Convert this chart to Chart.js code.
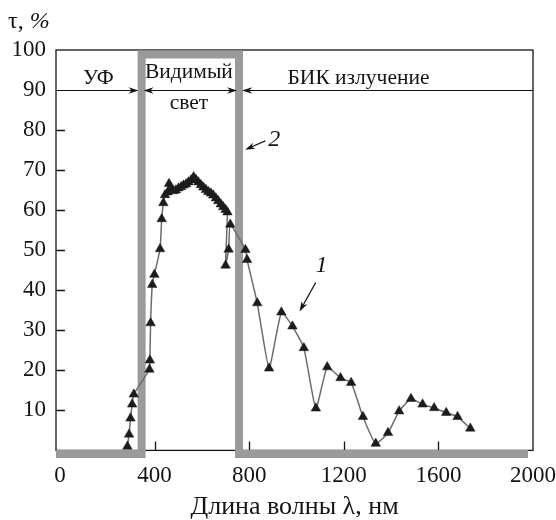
<!DOCTYPE html>
<html><head><meta charset="utf-8">
<script src="https://cdn.jsdelivr.net/npm/chart.js@4/dist/chart.umd.min.js"></script>
<style>html,body{margin:0;padding:0;background:#fff}#wrap{width:556px;height:520px}</style>
</head><body><div id="wrap"><canvas id="c" width="556" height="520"></canvas></div>
<script>
// Curve 1: measured transmission, tau (%) vs wavelength (nm)
const wavelength1 = [285,292,298,305,312,378,380,383,390,399,423,430,437,444,455,461,470,480,490,501,512,522,533,543,554,565,575,585,596,606,617,627,638,648,659,669,680,690,700,708,700,713,720,784,791,834,884,936,983,1031,1082,1130,1186,1231,1281,1335,1387,1434,1484,1533,1582,1633,1681,1735];
const transmission1 = [1,4,8,11.5,14,20.2,22.5,31.8,41.4,43.9,50.3,57.8,61.8,63.8,64.5,66.6,65.5,64.8,65,65.5,65.8,66.2,66.5,67,67.5,68.3,67.6,67,66.3,65.7,65.1,64.6,64.2,63.7,63,62.3,61.5,60.8,60.1,59.5,46.2,50.2,56.4,50.1,47.6,36.8,20.5,34.5,31,25.6,10.5,20.8,18.1,16.9,8.4,1.7,4.4,9.8,12.9,11.5,10.6,9.4,8.4,5.5];
// Curve 2: rectangular window (visible band)
const wavelength2 = [-17,345,345,757,757,1979];
const transmission2 = [-0.9,-0.9,98.9,98.9,-0.9,-0.9];
// Axis ticks
const xTicks = [0,400,800,1200,1600,2000];
const yTicks = [10,20,30,40,50,60,70,80,90,100];
// Region labels
const regionNames = ['УФ','Видимый','свет','БИК излучение'];
const curveNames = ['1','2'];

const SERIF = '"Liberation Serif","DejaVu Serif",serif';
const INK = '#141414';

const ann = {
  regionLineValue: 90,
  arrowTips: [[332,0],[353,Math.PI],[749,0],[770,Math.PI]],
  uv: [162, 93], vis1: [545, 94.3], vis2: [545, 86.6], nir: [962, 93],
  label1: [1106, 46.2], arrow1: [[1081,41.9],[1013,34.7]],
  label2: [906, 77.6], arrow2: [[868,77.3],[783,75.1]]
};

function arrowHead(ctx,x,y,ang,len,w){
  ctx.save(); ctx.translate(x,y); ctx.rotate(ang);
  ctx.beginPath(); ctx.moveTo(0,0); ctx.lineTo(-len,-w); ctx.lineTo(-len*0.7,0); ctx.lineTo(-len,w); ctx.closePath(); ctx.fill();
  ctx.restore();
}

const framePlugin = {
  id:'frame',
  beforeDatasetsDraw(chart){
    const {ctx, chartArea:a, scales:{x,y}} = chart;
    ctx.save();
    ctx.strokeStyle = INK; ctx.lineWidth = 1.3;
    ctx.strokeRect(a.left, a.top, a.right-a.left, a.bottom-a.top);
    ctx.beginPath();
    xTicks.forEach(v=>{ if(v<=0||v>=2000) return; const px=Math.round(x.getPixelForValue(v))+0.5; ctx.moveTo(px,a.bottom); ctx.lineTo(px,a.bottom-9); });
    yTicks.forEach(v=>{ if(v>=90) return; const py=Math.round(y.getPixelForValue(v))+0.5; ctx.moveTo(a.left,py); ctx.lineTo(a.left+9,py); });
    ctx.stroke();
    ctx.restore();
  }
};

const annPlugin = {
  id:'ann',
  afterDatasetsDraw(chart){
    const {ctx, chartArea:a, scales:{x,y}} = chart;
    const X=v=>x.getPixelForValue(v), Y=v=>y.getPixelForValue(v);
    ctx.save();
    ctx.strokeStyle = INK; ctx.fillStyle = INK; ctx.lineWidth = 1.2;
    const yy = Math.round(Y(ann.regionLineValue))+0.5;
    const t = ann.arrowTips.map(p=>X(p[0]));
    ctx.beginPath();
    [[a.left,t[0]-4],[t[1]+4,t[2]-4],[t[3]+4,a.right]].forEach(([s,e])=>{ctx.moveTo(s,yy);ctx.lineTo(e,yy);});
    ctx.stroke();
    ann.arrowTips.forEach(p=>arrowHead(ctx,X(p[0]),yy,p[1],10,3.3));

    ctx.font = '21.5px '+SERIF; ctx.textBaseline='middle'; ctx.textAlign='center';
    ctx.fillText(regionNames[0], X(ann.uv[0]), Y(ann.uv[1]));
    ctx.fillText(regionNames[1], X(ann.vis1[0]), Y(ann.vis1[1]));
    ctx.fillText(regionNames[2], X(ann.vis2[0]), Y(ann.vis2[1]));
    ctx.textAlign='left';
    ctx.fillText(regionNames[3], X(ann.nir[0]), Y(ann.nir[1]));

    ctx.font = 'italic 24px '+SERIF; ctx.textAlign='center';
    ctx.fillText(curveNames[0], X(ann.label1[0]), Y(ann.label1[1]));
    ctx.fillText(curveNames[1], X(ann.label2[0]), Y(ann.label2[1]));
    [ann.arrow1, ann.arrow2].forEach(([p0,p1])=>{
      const x0=X(p0[0]), y0=Y(p0[1]), x1=X(p1[0]), y1=Y(p1[1]);
      const ang=Math.atan2(y1-y0,x1-x0);
      ctx.beginPath(); ctx.moveTo(x0,y0); ctx.lineTo(x1-6*Math.cos(ang), y1-6*Math.sin(ang)); ctx.stroke();
      arrowHead(ctx,x1,y1,ang,10,3.3);
    });

    // y-axis caption
    ctx.font = '24px '+SERIF; ctx.textAlign='left'; ctx.textBaseline='middle';
    const tx = a.left-48, ty = a.top-28;
    ctx.fillText('τ, ', tx, ty);
    const w = ctx.measureText('τ, ').width;
    ctx.font = 'italic 24px '+SERIF;
    ctx.fillText('%', tx+w, ty);
    ctx.restore();
  }
};

const tickFont = {family:SERIF, size:23};
new Chart(document.getElementById('c'), {
  type:'line',
  data:{datasets:[
    {label:curveNames[0], data:wavelength1.map((v,i)=>({x:v,y:transmission1[i]})),
     borderColor:'#6c6c6c', borderWidth:1.5, tension:0.15,
     pointStyle:'triangle', pointRadius:5.5, pointBackgroundColor:'#1c1c1c', pointBorderColor:'#1c1c1c', pointBorderWidth:0.5,
     order:1},
    {label:curveNames[1], data:wavelength2.map((v,i)=>({x:v,y:transmission2[i]})),
     borderColor:'#9a9a9a', borderWidth:8, pointRadius:0, tension:0, borderJoinStyle:'miter', borderCapStyle:'butt',
     clip:false, order:2}
  ]},
  options:{
    responsive:false, animation:false, devicePixelRatio:1,
    layout:{padding:{top:50,left:1.5,right:22,bottom:0}},
    plugins:{legend:{display:false}, tooltip:{enabled:false}},
    scales:{
      x:{type:'linear', min:-17, max:2000,
         afterBuildTicks:s=>{s.ticks = xTicks.map(v=>({value:v}));},
         grid:{display:false, drawTicks:false}, border:{display:false},
         ticks:{padding:0, color:INK, font:{family:SERIF, size:23, lineHeight:2.2}, maxRotation:0, autoSkip:false, callback:v=>String(v)},
         title:{display:true, text:'Длина волны λ, нм', color:INK, font:{family:SERIF, size:26, lineHeight:1}, padding:{top:-7,bottom:0}}},
      y:{type:'linear', min:0, max:100,
         afterBuildTicks:s=>{s.ticks = yTicks.map(v=>({value:v}));},
         grid:{display:false, drawTicks:false}, border:{display:false},
         ticks:{padding:10, color:INK, font:tickFont, callback:v=>String(v)}}
    }
  },
  plugins:[framePlugin, annPlugin]
});
</script></body></html>
